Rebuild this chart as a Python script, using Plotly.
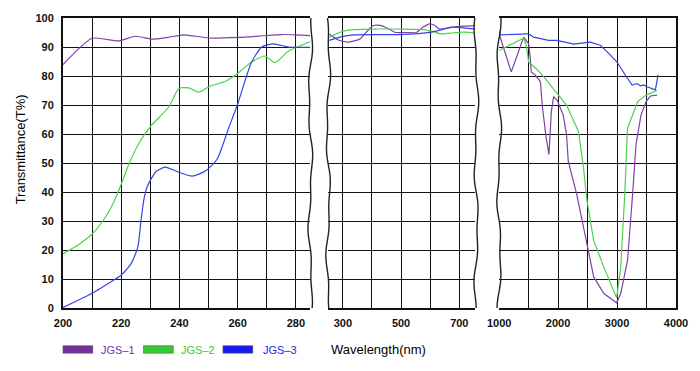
import math
import plotly.graph_objects as go

# ---------------- data ----------------
series_names = ["JGS–1", "JGS–2", "JGS–3"]
series_colors = ["#8040a8", "#4ed24e", "#3344e6"]
legend_colors = ["#7432a0", "#33cc33", "#1a1af0"]

# Panel 1 : 200-285 nm
uv_x_jgs1 = [200, 210, 218.9, 225.0, 230.7, 236, 241.5, 250.1, 260.3, 268, 275.1, 280, 285]
uv_y_jgs1 = [83.9, 93.0, 92.1, 93.7, 92.7, 93.3, 94.2, 93.1, 93.3, 93.8, 94.3, 94.2, 93.9]
uv_x_jgs2 = [200, 205.7, 210, 213.7, 217.1, 220, 222.8, 226.2, 230, 236.4, 239.8, 243.2, 246.7,
             250.1, 255.8, 260, 264.8, 269.4, 272.8, 277.4, 285]
uv_y_jgs2 = [18.7, 22.1, 25.5, 30.0, 35.8, 42.7, 50.0, 57.0, 62.5, 69.4, 75.7, 75.9, 74.4,
             76.3, 78.2, 80.9, 84.8, 86.9, 84.6, 88.5, 91.9]
uv_x_jgs3 = [200, 210, 218.3, 220, 223.4, 225.7, 226.8, 227.9, 229.0, 230, 231.9, 235.1, 239.3,
             244.4, 248.9, 252.9, 256.9, 259.9, 264.8, 268.3, 272.3, 277.4, 285]
uv_y_jgs3 = [0.2, 5.1, 10.2, 11.3, 15.3, 21.0, 30.1, 38.1, 42.0, 44.0, 47.0, 48.6, 47.0,
             45.5, 47.2, 51.2, 62.0, 70.0, 84.8, 90.0, 91.1, 90.0, 89.9]

# Panel 2 : visible
vis_x_jgs1 = [253.7, 285, 319.4, 359.2, 385, 404.4, 432.7, 460, 478.2, 520, 551.7, 575, 597.3,
              615, 631.3, 670.7, 716.3, 755]
vis_y_jgs1 = [94.5, 92.4, 91.7, 92.8, 95.6, 97.4, 97.4, 96.1, 95.1, 95.0, 95.0, 96.8, 98.0,
              97.5, 96.2, 96.8, 97.2, 97.4]
vis_x_jgs2 = [253.7, 296.6, 336.4, 420, 489.5, 580, 610, 636.7, 670, 716.3, 755]
vis_y_jgs2 = [93.4, 95.3, 96.0, 96.2, 96.2, 96.0, 95.3, 94.5, 94.8, 95.1, 94.8]
vis_x_jgs3 = [253.7, 296.6, 336.4, 420, 489.5, 560, 602.7, 640, 670.7, 716.3, 755]
vis_y_jgs3 = [92.3, 93.6, 94.2, 94.3, 94.3, 94.6, 95.1, 96.0, 96.8, 96.6, 96.2]

# Panel 3 : infrared
ir_x_jgs1 = [1000, 1205, 1416, 1501, 1528, 1545, 1613, 1700, 1730, 1798, 1845, 1885, 1924,
             1983, 2086, 2143, 2172, 2316, 2488, 2603, 2776, 2993, 3062, 3178, 3264, 3321,
             3407, 3493, 3566, 3679]
ir_y_jgs1 = [94.5, 81.4, 93.4, 91.1, 86.0, 81.4, 80.3, 78.0, 70.0, 58.6, 52.9, 67.7, 72.9,
             71.7, 66.6, 59.8, 50.6, 39.2, 22.2, 10.8, 5.0, 1.8, 5.0, 16.4, 39.2, 56.3,
             66.6, 71.2, 73.1, 73.4]
ir_x_jgs2 = [1000, 1416, 1460, 1501, 1630, 1727, 1914, 2143, 2345, 2431, 2488, 2534, 2603,
             2776, 2993, 3062, 3131, 3178, 3264, 3350, 3493, 3594, 3679]
ir_y_jgs2 = [88.8, 93.1, 90.6, 84.8, 82.5, 80.5, 75.7, 70.0, 60.9, 48.3, 37.3, 31.2, 23.3,
             14.1, 3.5, 14.1, 39.2, 62.0, 66.6, 71.2, 73.4, 74.4, 75.0]
ir_x_jgs3 = [1000, 1019, 1472, 1501, 1586, 1840, 1981, 2207, 2265, 2547, 2716, 2850, 3000,
             3150, 3255, 3340, 3396, 3453, 3509, 3650, 3696]
ir_y_jgs3 = [95.5, 94.2, 94.5, 94.5, 93.4, 92.3, 92.3, 91.1, 91.0, 91.7, 90.6, 88.0, 84.8,
             80.0, 76.9, 77.4, 76.6, 76.9, 76.3, 75.2, 80.5]

uv_ticks = [200, 220, 240, 260, 280]
vis_ticks = [300, 500, 700]
ir_ticks = [1000, 2000, 3000, 4000]
y_ticks = [0, 10, 20, 30, 40, 50, 60, 70, 80, 90, 100]

x_title = "Wavelength(nm)"
y_title = "Transmittance(T%)"

# ---------------- layout constants ----------------
W, H = 700, 371
ML, MR, MT, MB = 63, 20, 16, 63
PW = W - ML - MR
PH = H - MT - MB

def px2paper(px):
    return (px - ML) / PW

def py2paper(py):
    return (H - MB - py) / PH

dom1 = [0.0, px2paper(312)]
dom2 = [px2paper(330), px2paper(478)]
dom3 = [px2paper(502), 1.0]

FONT = "Liberation Sans, Arial, sans-serif"
GRID = dict(showgrid=True, gridcolor="#111", gridwidth=1.3, zeroline=False, ticks="")

fig = go.Figure()

panels = [
    ("x", "y", [uv_x_jgs1, uv_x_jgs2, uv_x_jgs3], [uv_y_jgs1, uv_y_jgs2, uv_y_jgs3], "spline"),
    ("x2", "y2", [vis_x_jgs1, vis_x_jgs2, vis_x_jgs3], [vis_y_jgs1, vis_y_jgs2, vis_y_jgs3], "spline"),
    ("x3", "y3", [ir_x_jgs1, ir_x_jgs2, ir_x_jgs3], [ir_y_jgs1, ir_y_jgs2, ir_y_jgs3], "linear"),
]
for xa, ya, xs, ys, shape in panels:
    for i in range(3):
        line = dict(color=series_colors[i], width=1.2, shape=shape)
        if shape == "spline":
            line["smoothing"] = 0.6
        fig.add_trace(go.Scatter(x=xs[i], y=ys[i], mode="lines", xaxis=xa, yaxis=ya,
                                 line=line, showlegend=False, name=series_names[i],
                                 hoverinfo="skip"))

tickfont = dict(family=FONT, size=11, color="#111", weight="bold")

def xaxis(domain, rng, ticks, tick0, minor_dtick, anchor):
    return dict(domain=domain, range=rng, tickmode="array", tickvals=ticks,
                ticktext=[str(t) for t in ticks], anchor=anchor,
                showline=True, linecolor="#111", linewidth=2, mirror=True,
                tickfont=tickfont, ticklabelstandoff=4,
                minor=dict(tickmode="linear", tick0=tick0, dtick=minor_dtick,
                           showgrid=True, gridcolor="#111", gridwidth=1.3, ticks=""),
                **GRID)

fig.update_layout(
    width=W, height=H,
    margin=dict(l=ML, r=MR, t=MT, b=MB),
    paper_bgcolor="white", plot_bgcolor="white",
    xaxis=xaxis(dom1, [200, 285], uv_ticks, 200, 10, "y"),
    xaxis2=xaxis(dom2, [250, 755], vis_ticks, 300, 100, "y2"),
    xaxis3=xaxis(dom3, [1000, 4000], ir_ticks, 1000, 500, "y3"),
    yaxis=dict(range=[0, 100], tickvals=y_ticks, anchor="x", showline=True,
               linecolor="#111", linewidth=2, tickfont=tickfont, ticklabelstandoff=5, **GRID),
    yaxis2=dict(range=[0, 100], tickvals=y_ticks, anchor="x2", showticklabels=False,
                showline=False, **GRID),
    yaxis3=dict(range=[0, 100], tickvals=y_ticks, anchor="x3", showticklabels=False,
                showline=True, side="right", linecolor="#111", linewidth=2, **GRID),
    showlegend=False,
)

# ---------------- wavy break edges (decoration) ----------------
def wavy_path(px_center, phase):
    pts = []
    n = 60
    for k in range(n + 1):
        t = k / n
        off = 1.6 * math.sin(2 * math.pi * (2.3 * t + phase)) + 0.9 * math.sin(2 * math.pi * (5.7 * t + 2 * phase))
        pts.append((px2paper(px_center + off), t))
    return "M " + " L ".join(f"{x:.5f},{y:.5f}" for x, y in pts)

for pxc, ph in [(312, 0.1), (330, 0.35), (479, 0.6), (502, 0.85)]:
    fig.add_shape(type="path", path=wavy_path(pxc, ph), xref="paper", yref="paper",
                  line=dict(color="#222", width=1.4), layer="above")

# ---------------- custom legend ----------------
legend_px = [(63, 99), (144, 180), (224, 262)]
for i, (rx, tx) in enumerate(legend_px):
    fig.add_shape(type="rect", xref="paper", yref="paper",
                  x0=px2paper(rx), x1=px2paper(rx + 30), y0=py2paper(346), y1=py2paper(353.5),
                  fillcolor=legend_colors[i], line=dict(color="#555", width=0.6))
    fig.add_annotation(text=series_names[i], xref="paper", yref="paper",
                       x=px2paper(tx), y=py2paper(350), xanchor="left", yanchor="middle",
                       showarrow=False, font=dict(family=FONT, size=11, color=legend_colors[i]))

fig.add_annotation(text=x_title, xref="paper", yref="paper", x=px2paper(381), y=py2paper(349.5),
                   xanchor="center", yanchor="middle", showarrow=False,
                   font=dict(family=FONT, size=13, color="#000"))
fig.add_annotation(text=y_title, xref="paper", yref="paper", x=px2paper(20), y=py2paper(148),
                   xanchor="center", yanchor="middle", textangle=-90, showarrow=False,
                   font=dict(family=FONT, size=13, color="#000"))

fig.write_html("out.html", config={"displayModeBar": False},
               post_script="document.body.style.margin='0';document.body.style.overflow='hidden';")
